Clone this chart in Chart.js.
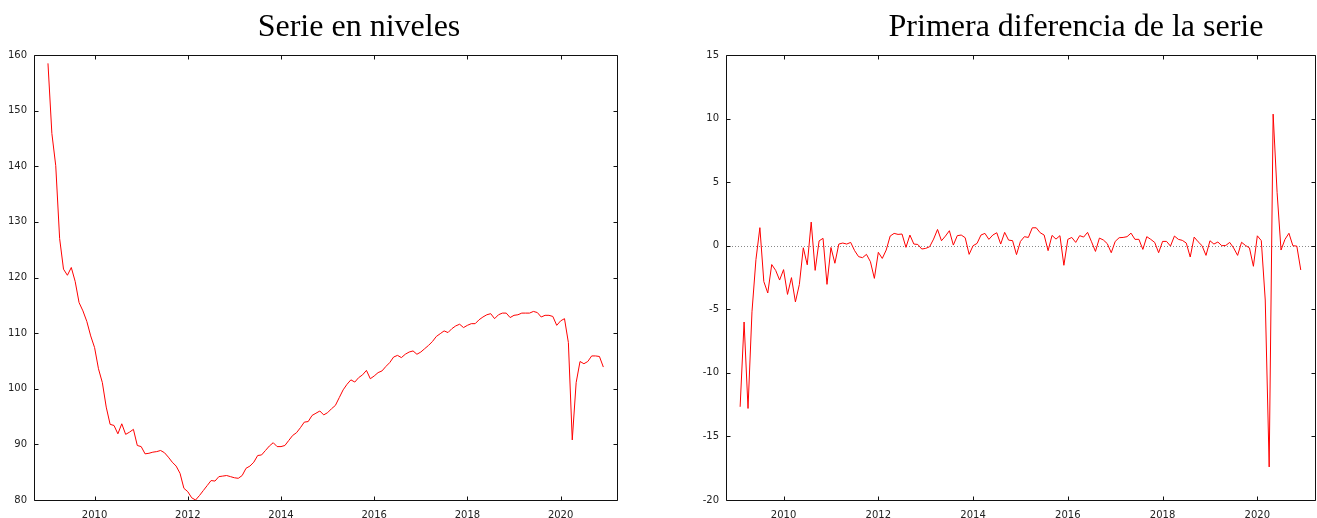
<!DOCTYPE html>
<html>
<head>
<meta charset="utf-8">
<script src="https://cdn.jsdelivr.net/npm/chart.js@4"></script>
<style>
  body { margin: 0; background: #fff; }
  #wrap { position: relative; width: 1317px; height: 518px; overflow: hidden; }
  .panel { position: absolute; top: 0; height: 518px; }
  .ttl {
    position: absolute; top: 9px; width: 600px; text-align: center;
    font-family: "Liberation Serif", "Times New Roman", serif;
    font-size: 32px; line-height: 32px; color: #000; white-space: nowrap;
  }
</style>
</head>
<body>
<div id="wrap">
  <div class="panel" style="left:0; width:660px;"><canvas id="levelsChart"></canvas></div>
  <div class="panel" style="left:660px; width:657px;"><canvas id="diffChart"></canvas></div>
  <div class="ttl" style="left:59px;">Serie en niveles</div>
  <div class="ttl" style="left:776px;">Primera diferencia de la serie</div>
</div>
<script>
// monthly series, 2009:01 - 2020:12
const startYear = 2009;
const levels = [
  158.5, 145.9, 140.1, 127.0, 121.5, 120.4, 121.8, 119.3, 115.5, 114.0, 112.1, 109.5,
  107.4, 103.6, 101.1, 96.7, 93.6, 93.4, 91.9, 93.7, 91.8, 92.2, 92.7, 89.8,
  89.6, 88.3, 88.4, 88.6, 88.7, 88.9, 88.5, 87.7, 86.8, 86.1, 84.8, 82.1,
  81.5, 80.4, 80.0, 80.8, 81.7, 82.6, 83.5, 83.4, 84.2, 84.3, 84.4, 84.2,
  84.0, 83.9, 84.4, 85.7, 86.1, 86.8, 88.0, 88.1, 88.9, 89.7, 90.3, 89.6,
  89.6, 89.8, 90.7, 91.6, 92.1, 93.0, 94.0, 94.1, 95.2, 95.6, 96.0, 95.3,
  95.7, 96.4, 97.0, 98.4, 99.8, 100.8, 101.6, 101.2, 102.0, 102.5, 103.3, 101.8,
  102.3, 102.9, 103.2, 104.0, 104.7, 105.7, 106.0, 105.6, 106.2, 106.6, 106.8, 106.2,
  106.6, 107.2, 107.8, 108.5, 109.4, 109.9, 110.4, 110.1, 110.8, 111.3, 111.6, 111.0,
  111.4, 111.7, 111.7, 112.4, 112.9, 113.3, 113.5, 112.6, 113.3, 113.6, 113.6, 112.8,
  113.2, 113.3, 113.6, 113.6, 113.6, 113.9, 113.7, 112.9, 113.2, 113.2, 113.0, 111.4,
  112.2, 112.6, 108.3, 90.8, 101.1, 104.9, 104.5, 104.9, 105.9, 105.9, 105.8, 103.9
];
// first difference, 2009:02 - 2020:12
const diffs = [
  -12.67, -6.0, -12.8, -5.2, -1.1, 1.42, -2.82, -3.72, -1.48, -1.94, -2.7,
  -1.88, -3.83, -2.51, -4.42, -3.05, -0.16, -1.5, 1.86, -1.94, 0.38, 0.58, -3.04,
  -0.14, -1.38, 0.13, 0.21, 0.13, 0.26, -0.39, -0.86, -0.94, -0.68, -1.26, -2.57,
  -0.52, -1.0, -0.34, 0.76, 0.97, 0.89, 0.92, -0.13, 0.84, 0.13, 0.1, -0.26,
  -0.21, -0.08, 0.52, 1.28, 0.39, 0.76, 1.18, 0.05, 0.79, 0.84, 0.63, -0.68,
  0.0, 0.18, 0.84, 0.97, 0.5, 0.84, 1.02, 0.13, 1.05, 0.44, 0.4, -0.7,
  0.34, 0.71, 0.65, 1.41, 1.41, 1.02, 0.84, -0.39, 0.81, 0.52, 0.79, -1.54,
  0.5, 0.65, 0.26, 0.79, 0.68, 1.05, 0.31, -0.45, 0.6, 0.45, 0.16, -0.55,
  0.34, 0.63, 0.65, 0.71, 0.99, 0.5, 0.5, -0.29, 0.71, 0.5, 0.26, -0.55,
  0.34, 0.34, -0.03, 0.76, 0.5, 0.42, 0.21, -0.89, 0.68, 0.31, 0.0, -0.76,
  0.39, 0.13, 0.29, 0.0, 0.02, 0.26, -0.18, -0.76, 0.27, 0.02, -0.17, -1.62,
  0.78, 0.4, -4.27, -17.4, 10.35, 4.2, -0.34, 0.5, 0.98, 0.0, -0.03, -1.91
];
const yearTicks = [2010, 2012, 2014, 2016, 2018, 2020];
const levelTicks = [80, 90, 100, 110, 120, 130, 140, 150, 160];
const diffTicks = [-20, -15, -10, -5, 0, 5, 10, 15];

// gnuplot-like box with inward ticks, plus optional dotted zero line
const boxPlugin = {
  id: "box",
  beforeDatasetsDraw(chart, args, opts) {
    if (!opts.zeroLine) return;
    const a = chart.chartArea, ctx = chart.ctx;
    const y = Math.round(chart.scales.y.getPixelForValue(0)) + 0.5;
    ctx.save();
    ctx.strokeStyle = "#888";
    ctx.lineWidth = 1;
    ctx.setLineDash([1, 2]);
    ctx.beginPath();
    ctx.moveTo(a.left, y);
    ctx.lineTo(a.right, y);
    ctx.stroke();
    ctx.restore();
  },
  afterDatasetsDraw(chart) {
    const a = chart.chartArea, ctx = chart.ctx;
    const L = Math.round(a.left) + 0.5, R = Math.round(a.right) + 0.5;
    const T = Math.round(a.top) + 0.5, B = Math.round(a.bottom) + 0.5;
    const len = 4;
    ctx.save();
    ctx.strokeStyle = "#111";
    ctx.lineWidth = 1;
    ctx.beginPath();
    ctx.rect(L, T, R - L, B - T);
    chart.scales.x.ticks.forEach(t => {
      const x = Math.round(chart.scales.x.getPixelForValue(t.value)) + 0.5;
      ctx.moveTo(x, B); ctx.lineTo(x, B - len);
      ctx.moveTo(x, T); ctx.lineTo(x, T + len);
    });
    chart.scales.y.ticks.forEach(t => {
      const y = Math.round(chart.scales.y.getPixelForValue(t.value)) + 0.5;
      ctx.moveTo(L, y); ctx.lineTo(L + len, y);
      ctx.moveTo(R, y); ctx.lineTo(R - len, y);
    });
    ctx.stroke();
    ctx.restore();
  }
};

const tickFont = { family: "DejaVu Sans", size: 10 };

function makeChart(id, values, firstMonth, yMin, yMax, yTicks, xMin, xMax, yWidth, padRight, zeroLine) {
  const points = values.map((v, i) => ({ x: startYear + (firstMonth + i) / 12, y: v }));
  return new Chart(document.getElementById(id), {
    type: "line",
    data: {
      datasets: [{
        data: points,
        borderColor: "#ff0000",
        borderWidth: 1,
        pointRadius: 0,
        tension: 0,
        fill: false
      }]
    },
    plugins: [boxPlugin],
    options: {
      responsive: true,
      maintainAspectRatio: false,
      animation: false,
      layout: { padding: { top: 55, right: padRight, left: 0, bottom: 0 } },
      plugins: {
        legend: { display: false },
        tooltip: { enabled: false },
        box: { zeroLine: zeroLine }
      },
      scales: {
        x: {
          type: "linear",
          min: xMin,
          max: xMax,
          afterBuildTicks: s => { s.ticks = yearTicks.map(v => ({ value: v })); },
          afterFit: s => { s.height = 18; },
          grid: { display: false, drawTicks: false },
          border: { display: false },
          ticks: { font: tickFont, color: "#222", padding: 9, maxRotation: 0, callback: v => String(v) }
        },
        y: {
          min: yMin,
          max: yMax,
          afterBuildTicks: s => { s.ticks = yTicks.map(v => ({ value: v })); },
          afterFit: s => { s.width = yWidth; },
          grid: { display: false, drawTicks: false },
          border: { display: false },
          ticks: { font: tickFont, color: "#222", padding: 7, callback: v => String(v) }
        }
      }
    }
  });
}

makeChart("levelsChart", levels, 0, 80, 160, levelTicks, 2008.70, 2021.21, 34, 43, false);
makeChart("diffChart", diffs, 1, -20, 15, diffTicks, 2008.785, 2021.217, 66, 2, true);
</script>
</body>
</html>
